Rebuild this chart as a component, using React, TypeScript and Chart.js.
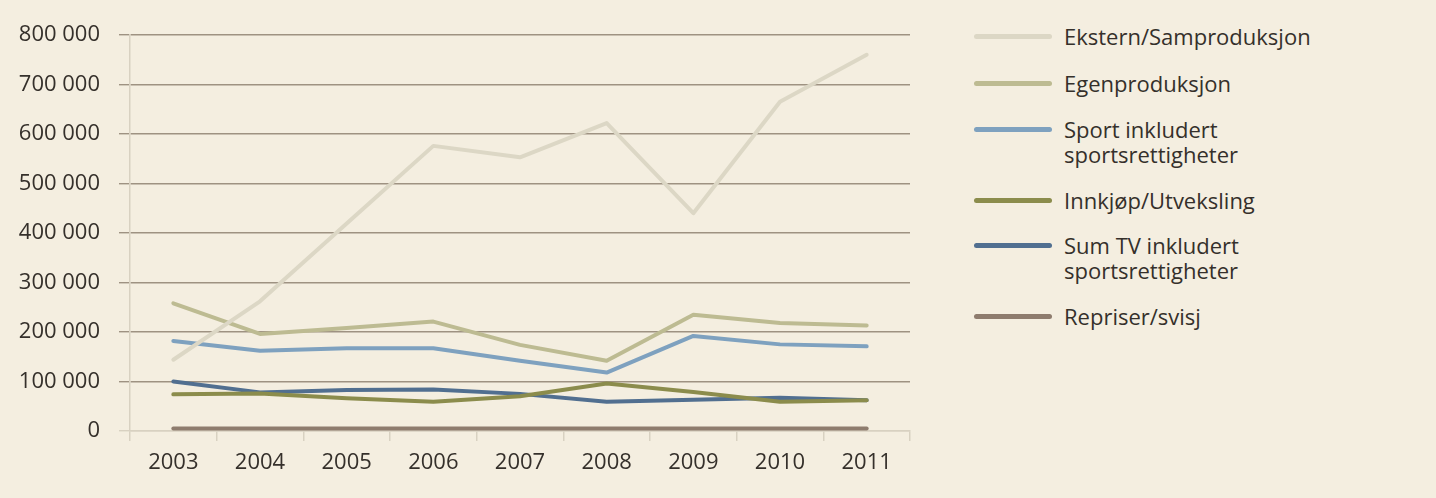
import React, { useEffect, useRef } from "react";
import { Chart, registerables } from "chart.js";

Chart.register(...registerables);

const years = ["2003", "2004", "2005", "2006", "2007", "2008", "2009", "2010", "2011"];

const ekstern = [144000, 262000, 419000, 576000, 553000, 622000, 440000, 665000, 760000];
const egen = [258000, 196000, 208000, 221000, 174000, 142000, 235000, 218000, 213000];
const sport = [182000, 162000, 167000, 167000, 142000, 118000, 192000, 175000, 171000];
const innkjop = [74000, 76000, 66000, 59000, 70000, 96000, 79000, 59000, 62000];
const sumTv = [100000, 78000, 83000, 84000, 75000, 59000, 63000, 67000, 62000];
const repriser = [5000, 5000, 5000, 5000, 5000, 5000, 5000, 5000, 5000];

const seriesLabels: string[][] = [
  ["Ekstern/Samproduksjon"],
  ["Egenproduksjon"],
  ["Sport inkludert", "sportsrettigheter"],
  ["Innkjøp/Utveksling"],
  ["Sum TV inkludert", "sportsrettigheter"],
  ["Repriser/svisj"],
];
const seriesData = [ekstern, egen, sport, innkjop, sumTv, repriser];
const seriesColors = ["#dcd7c5", "#bdbb92", "#7ea1bf", "#8b8c4c", "#516f90", "#8e7c6e"];

const yTicks = [0, 100000, 200000, 300000, 400000, 500000, 600000, 700000, 800000];

const BG = "#f4eee0";
const GRID = "#9e9282";
const LIGHT = "#d8d1c1";
const TEXT = "#35302b";
const FONT = "'Open Sans', 'Noto Sans', sans-serif";
const FONT_SIZE = 22;

// vertical position of each legend swatch
const legendRowY = [36, 83, 129, 200, 245, 316];

function fmt(v: number): string {
  return String(v).replace(/\B(?=(\d{3})+(?!\d))/g, " ");
}

export default function App() {
  const canvasRef = useRef<HTMLCanvasElement | null>(null);

  useEffect(() => {
    if (!canvasRef.current) return;
    const chart = new Chart(canvasRef.current, {
      type: "line",
      data: {
        labels: years,
        datasets: seriesData.map((d, i) => ({
          label: seriesLabels[i].join(" "),
          data: d,
          borderColor: seriesColors[i],
          backgroundColor: seriesColors[i],
          borderWidth: 4,
          pointRadius: 0,
          tension: 0,
          borderCapStyle: "round" as const,
          borderJoinStyle: "round" as const,
          fill: false,
        })),
      },
      options: {
        animation: false,
        responsive: true,
        maintainAspectRatio: false,
        layout: { padding: { top: 35, right: 20, left: 0, bottom: 0 } },
        plugins: {
          legend: { display: false },
          tooltip: { enabled: false },
        },
        scales: {
          x: {
            offset: true,
            grid: {
              offset: true,
              drawOnChartArea: false,
              drawTicks: true,
              tickLength: 10,
              color: LIGHT,
              lineWidth: 1.5,
            },
            border: { color: LIGHT, width: 1.5 },
            ticks: {
              color: TEXT,
              padding: 9,
              font: { family: FONT, size: FONT_SIZE },
            },
            afterFit: (scale: any) => {
              scale.height = 67;
            },
          },
          y: {
            min: 0,
            max: 800000,
            afterBuildTicks: (scale: any) => {
              scale.ticks = yTicks.map((v) => ({ value: v }));
            },
            grid: {
              color: (ctx: any) => (ctx.tick && ctx.tick.value === 0 ? LIGHT : GRID),
              lineWidth: 1.4,
              tickLength: 11,
            },
            border: { color: LIGHT, width: 1.5 },
            ticks: {
              color: TEXT,
              padding: 19,
              font: { family: FONT, size: FONT_SIZE },
              callback: (v: any) => fmt(Number(v)),
            },
            afterFit: (scale: any) => {
              scale.width = 130;
            },
          },
        },
      },
    });
    return () => chart.destroy();
  }, []);

  return (
    <div
      style={{
        position: "fixed",
        left: 0,
        top: 0,
        width: 1436,
        height: 498,
        background: BG,
        overflow: "hidden",
        fontFamily: FONT,
      }}
    >
      <div style={{ position: "absolute", left: 0, top: 0, width: 930, height: 498 }}>
        <canvas ref={canvasRef} />
      </div>
      {seriesLabels.map((lines, i) => (
        <React.Fragment key={i}>
          <div
            style={{
              position: "absolute",
              left: 974,
              top: legendRowY[i] - 2.5,
              width: 78,
              height: 5,
              borderRadius: 2.5,
              background: seriesColors[i],
            }}
          />
          <div
            style={{
              position: "absolute",
              left: 1064,
              top: legendRowY[i] - 12,
              fontSize: FONT_SIZE,
              lineHeight: "25px",
              color: TEXT,
              whiteSpace: "nowrap",
            }}
          >
            {lines.map((t, j) => (
              <div key={j}>{t}</div>
            ))}
          </div>
        </React.Fragment>
      ))}
    </div>
  );
}
